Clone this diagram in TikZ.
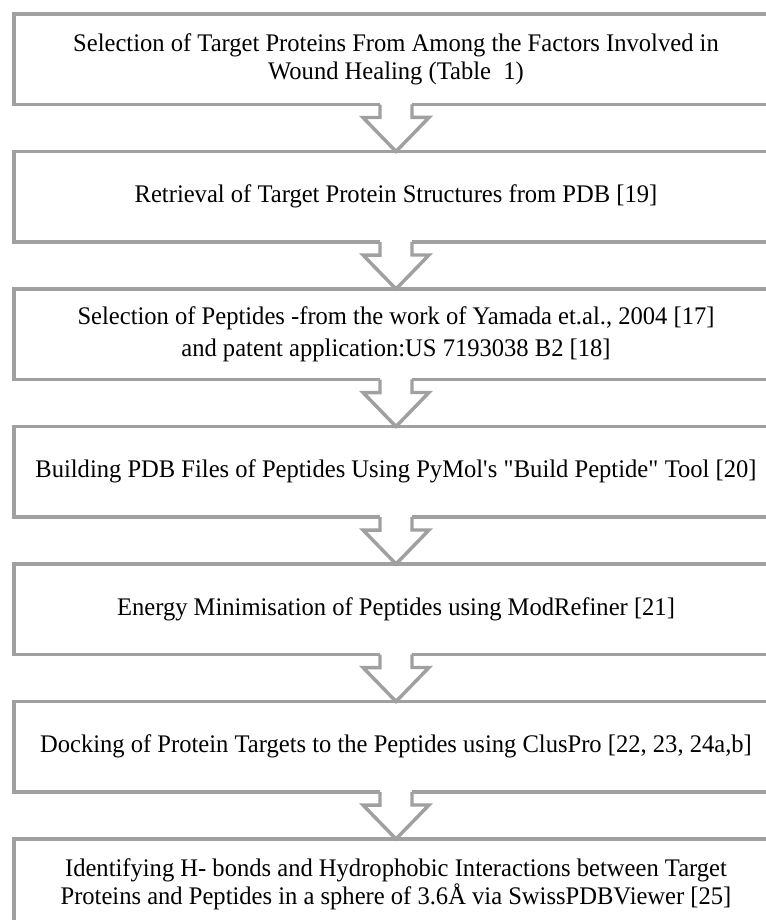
\documentclass[tikz,border=0pt]{standalone}
\usepackage{fontspec}
\setmainfont{Liberation Serif}[FakeStretch=0.97]
\usetikzlibrary{calc}
\definecolor{boxgray}{RGB}{160,160,160}

\begin{document}
\begin{tikzpicture}[x=0.75pt,y=0.75pt,yscale=-1,xscale=1,
  stepbox/.style={draw=boxgray, line width=2.6pt, outer sep=0pt, inner sep=0pt,
    minimum width=573pt, minimum height=67.9pt, align=center,
    font=\fontsize{19}{20.5}\selectfont},
  flowarrow/.style={draw=boxgray, line width=2.6pt, line join=miter}]
%set diagram size: 766 x 920
\useasboundingbox (0,0) rectangle (766,920);
\clip (0,0) rectangle (766,920);

% Text Node
\node [stepbox] (target) at (396,59.25) {Selection of Target Proteins From Among the Factors Involved in\\ Wound Healing (Table\ \ 1)};
% Text Node
\node [stepbox] (retrieve) at (396,196.75) {Retrieval of Target Protein Structures from PDB [19]};
% Text Node
\node [stepbox] (peptides) at (396,334.25) {Selection of Peptides -from the work of Yamada et.al., 2004 [17]\\[4pt] and patent application:US 7193038 B2 [18]};
% Text Node
\node [stepbox] (build) at (396,471.75) {Building PDB Files of Peptides Using PyMol\textquotesingle s \textquotedbl Build Peptide\textquotedbl\ Tool [20]};
% Text Node
\node [stepbox] (minimise) at (396,609.25) {Energy Minimisation of Peptides using ModRefiner [21]};
% Text Node
\node [stepbox] (docking) at (396,746.75) {Docking of Protein Targets to the Peptides using ClusPro [22, 23, 24a,b]};
% Text Node
\node [stepbox] (hbonds) at (396,884.25) {Identifying H- bonds and Hydrophobic Interactions between Target\\ Proteins and Peptides in a sphere of 3.6Å via SwissPDBViewer [25]};

%Hollow Arrows
\fill [white] ($(target.south)+(-16,-3)$) rectangle ($(target.south)+(16,3)$);
\draw [flowarrow] ($(target.south)+(-16,0)$) -- ++(0,13) -- ++(-17,0) -- (retrieve.north) -- ++(33,-34) -- ++(-17,0) -- ++(0,-13);

\fill [white] ($(retrieve.south)+(-16,-3)$) rectangle ($(retrieve.south)+(16,3)$);
\draw [flowarrow] ($(retrieve.south)+(-16,0)$) -- ++(0,13) -- ++(-17,0) -- (peptides.north) -- ++(33,-34) -- ++(-17,0) -- ++(0,-13);

\fill [white] ($(peptides.south)+(-16,-3)$) rectangle ($(peptides.south)+(16,3)$);
\draw [flowarrow] ($(peptides.south)+(-16,0)$) -- ++(0,13) -- ++(-17,0) -- (build.north) -- ++(33,-34) -- ++(-17,0) -- ++(0,-13);

\fill [white] ($(build.south)+(-16,-3)$) rectangle ($(build.south)+(16,3)$);
\draw [flowarrow] ($(build.south)+(-16,0)$) -- ++(0,13) -- ++(-17,0) -- (minimise.north) -- ++(33,-34) -- ++(-17,0) -- ++(0,-13);

\fill [white] ($(minimise.south)+(-16,-3)$) rectangle ($(minimise.south)+(16,3)$);
\draw [flowarrow] ($(minimise.south)+(-16,0)$) -- ++(0,13) -- ++(-17,0) -- (docking.north) -- ++(33,-34) -- ++(-17,0) -- ++(0,-13);

\fill [white] ($(docking.south)+(-16,-3)$) rectangle ($(docking.south)+(16,3)$);
\draw [flowarrow] ($(docking.south)+(-16,0)$) -- ++(0,13) -- ++(-17,0) -- (hbonds.north) -- ++(33,-34) -- ++(-17,0) -- ++(0,-13);

\end{tikzpicture}
\end{document}
